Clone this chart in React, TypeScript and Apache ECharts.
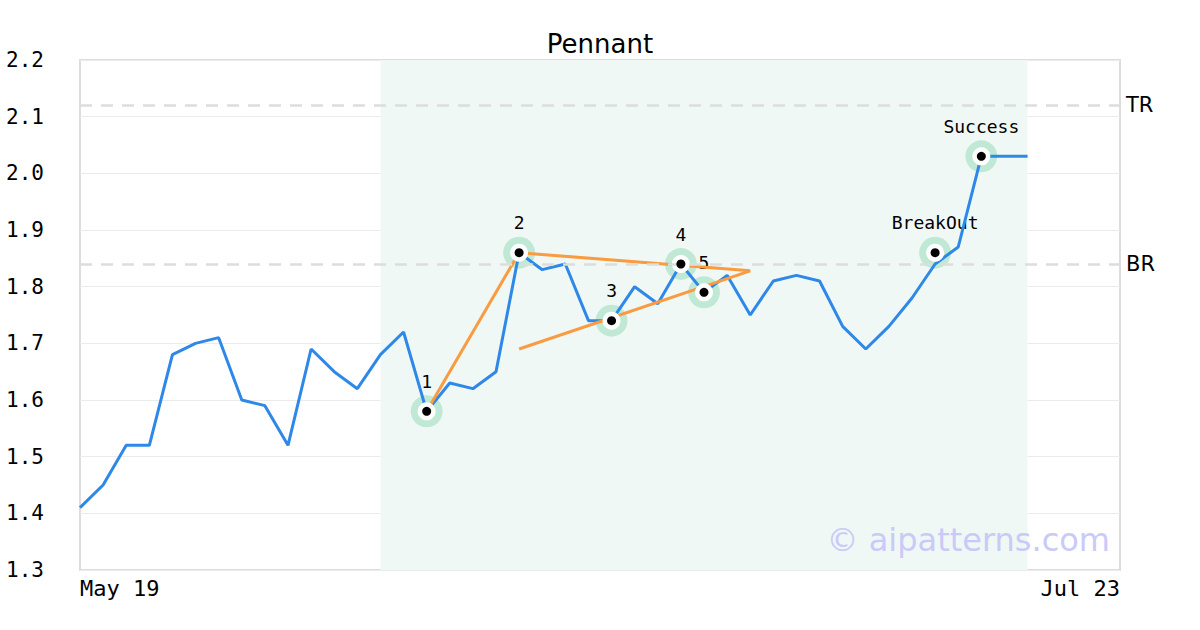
import React, { useEffect, useRef } from "react";
import * as echarts from "echarts";

// price series, one value per trading-day index (0..41)
const values = [
  1.41, 1.45, 1.52, 1.52, 1.68, 1.70, 1.71, 1.60, 1.59, 1.52,
  1.69, 1.65, 1.62, 1.68, 1.72, 1.58, 1.63, 1.62, 1.65, 1.86,
  1.83, 1.84, 1.74, 1.74, 1.80, 1.77, 1.84, 1.79, 1.82, 1.75,
  1.81, 1.82, 1.81, 1.73, 1.69, 1.73, 1.78, 1.84, 1.87, 2.03,
  2.03, 2.03,
];

// x-axis tick labels at index positions
const xTickPos = [0, 45];
const xTickLabels = ["May 19", "Jul 23"];

// pattern points
const markerX = [15, 19, 23, 26, 27, 37, 39];
const markerY = [1.58, 1.86, 1.74, 1.84, 1.79, 1.86, 2.03];
const markerLabels = ["1", "2", "3", "4", "5", "BreakOut", "Success"];

// pennant trend lines (x index, value)
const legA = [[15, 1.58], [19, 1.86]];
const upperLine = [[19, 1.86], [29, 1.828]];
const lowerLine = [[19, 1.69], [29, 1.828]];

// resistance levels
const levelNames = ["TR", "BR"];
const levelValues = [2.12, 1.84];

// shaded pattern span
const spanStart = 13;
const spanEnd = 41;

const MONO = "DejaVu Sans Mono";
const SANS = "DejaVu Sans";

export default function App() {
  const ref = useRef<HTMLDivElement>(null);

  useEffect(() => {
    if (!ref.current) return;
    const chart = echarts.init(ref.current, null, { renderer: "svg" });

    const orange = (data: number[][]) => ({
      type: "line",
      data,
      symbol: "none",
      z: 3,
      lineStyle: { color: "#f99b40", width: 3 },
      silent: true,
    });

    const markerData = markerX.map((x, i) => [x, markerY[i]]);

    chart.setOption({
      animation: false,
      title: {
        text: "Pennant",
        left: "center",
        top: 26,
        textStyle: { fontFamily: SANS, fontSize: 26, fontWeight: "normal", color: "#000" },
      },
      grid: {
        left: 80,
        right: 80,
        top: 60,
        bottom: 60,
        show: true,
        borderColor: "#dddddd",
        borderWidth: 2,
        backgroundColor: "#fff",
      },
      xAxis: {
        type: "value",
        min: 0,
        max: 45,
        interval: 45,
        axisLine: { show: false },
        axisTick: { show: false },
        splitLine: { show: false },
        axisLabel: {
          margin: 7,
          fontFamily: MONO,
          fontSize: 22,
          color: "#000",
          alignMinLabel: "left",
          alignMaxLabel: "right",
          formatter: (v: number) => {
            const k = xTickPos.indexOf(Math.round(v));
            return k >= 0 ? xTickLabels[k] : "";
          },
        },
      },
      yAxis: {
        type: "value",
        min: 1.3,
        max: 2.2,
        interval: 0.1,
        axisLine: { show: false },
        axisTick: { show: false },
        splitLine: { lineStyle: { color: "#ebebeb", width: 1 } },
        axisLabel: {
          margin: 36,
          fontFamily: MONO,
          fontSize: 21,
          color: "#000",
          formatter: (v: number) => v.toFixed(1),
        },
      },
      graphic: [
        {
          type: "text",
          right: 90,
          top: 524,
          z: 10,
          style: {
            text: "© aipatterns.com",
            fontFamily: SANS,
            fontSize: 32,
            fill: "#cacaf8",
          },
        },
      ],
      series: [
        {
          type: "scatter",
          data: markerData,
          symbolSize: 32,
          z: 1,
          itemStyle: { color: "#bfe9d5", opacity: 1 },
          label: {
            show: true,
            position: "top",
            distance: 5,
            formatter: (p: any) => markerLabels[p.dataIndex],
            fontFamily: MONO,
            fontSize: 18,
            color: "#000",
          },
          silent: true,
        },
        {
          type: "line",
          data: values.map((v, i) => [i, v]),
          symbol: "none",
          z: 2,
          lineStyle: { color: "#2e88e8", width: 3 },
          markArea: {
            silent: true,
            itemStyle: { color: "#f0f8f5" },
            data: [[{ xAxis: spanStart }, { xAxis: spanEnd }]],
          },
          markLine: {
            silent: true,
            symbol: "none",
            lineStyle: { color: "#dddddd", width: 2.5, type: [12, 9] },
            label: {
              show: true,
              position: "end",
              distance: 6,
              fontFamily: SANS,
              fontSize: 21,
              color: "#000",
              formatter: (p: any) => p.name,
            },
            data: levelNames.map((n, i) => ({ name: n, yAxis: levelValues[i] })),
          },
        },
        orange(legA),
        orange(upperLine),
        orange(lowerLine),
        {
          type: "scatter",
          data: markerData,
          symbolSize: 18,
          z: 4,
          itemStyle: { color: "#ffffff", opacity: 1 },
          silent: true,
        },
        {
          type: "scatter",
          data: markerData,
          symbolSize: 9,
          z: 5,
          itemStyle: { color: "#000000", opacity: 1 },
          silent: true,
        },
      ],
    });

    return () => chart.dispose();
  }, []);

  return (
    <div
      ref={ref}
      style={{ position: "fixed", left: 0, top: 0, width: 1200, height: 630, background: "#fff" }}
    />
  );
}
